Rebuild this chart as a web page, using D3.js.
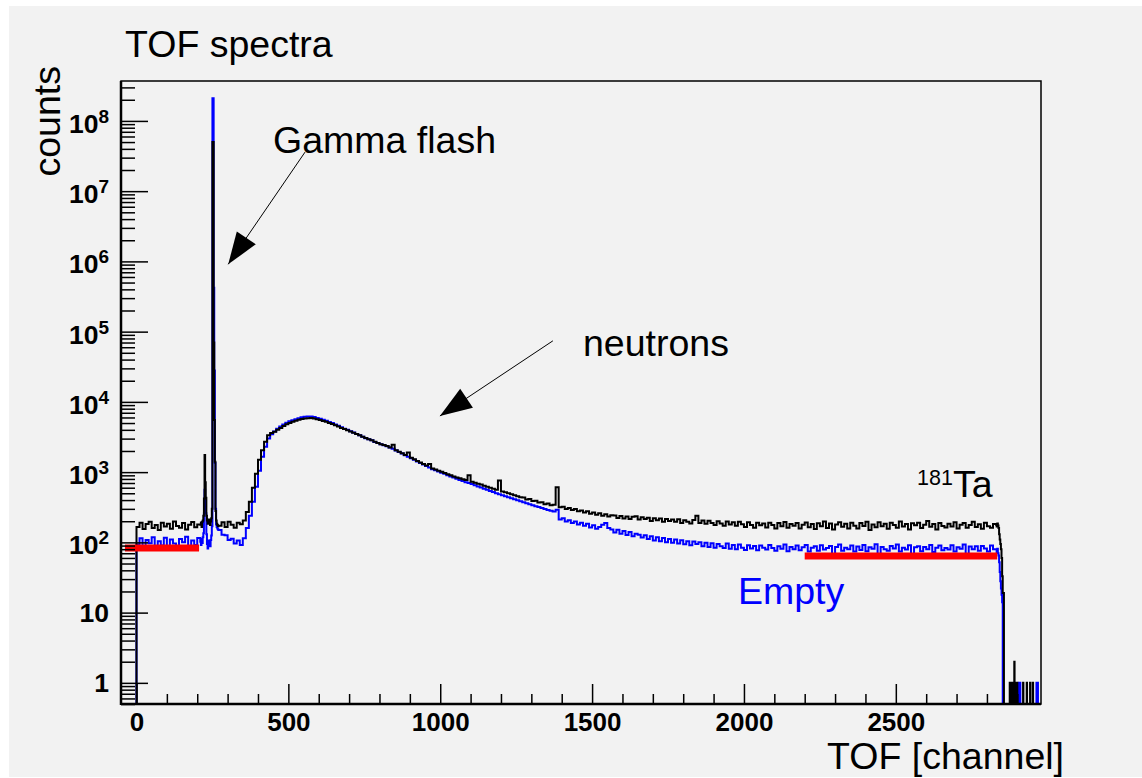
<!DOCTYPE html>
<html><head><meta charset="utf-8">
<script src="https://cdn.jsdelivr.net/npm/d3@7"></script>
<style>
html,body{margin:0;padding:0;background:#fff;}
svg{display:block;font-family:"Liberation Sans",Arial,Helvetica,sans-serif;}
</style></head><body>
<svg id="chart" width="1142" height="778"></svg>
<script>
// ---------------- DATA ----------------
// bins: channels 0-210 step 10
const taA = [166,190,155,182,197,160,176,150,191,168,184,156,199,171,161,188,153,178,195,164,180];
const emptyA = [93,114,84,108,97,118,80,104,90,116,86,110,96,79,112,100,120,85,106,92,115];
// channels 210-270 step 2 (gamma flash)
const taB = [178,192,165,196,205,240,420,1750,720,430,240,205,184,200,212,186,176,198,220,300,
             5.0e7,5.0e7,7.0e4,5500,1400,280,205,184,176,170];
const emptyB = [102,92,112,98,118,135,260,560,420,260,130,95,82,94,106,95,88,108,125,170,
                2.1e8,2.1e8,4.2e5,2.8e4,1350,300,180,165,158,152];
// channels 270-2830 step 10
const taC = [
 172,194,165,196,178,162,191,181,205,270,
 380,600,950,1500,2050,2700,3350,3600,3750,4000,
 4250,4550,4800,5000,5200,5380,5550,5700,5790,5850,
 5880,5800,5650,5520,5350,5200,5000,4850,4650,4450,
 4250,4100,3950,3800,3650,3500,3350,3200,3050,2950,
 2850,2700,2600,2500,2430,2350,2250,2450,2050,1950,
 1850,1750,1900,1600,1520,1440,1370,1300,1240,1300,
 1130,1090,1050,1010,975,930,905,870,840,815,
 790,770,900,730,705,685,665,640,620,600,
 580,560,760,530,515,500,485,470,455,440,
 434,408,414,388,391,370,373,350,359,338,
 344,610,316,322,298,308,288,298,278,285,
 266,277,256,266,248,259,239,251,234,244,
 242,223,238,218,234,215,231,236,212,227,
 215,225,202,221,206,218,197,215,202,212,
 196,214,189,207,197,186,209,240,188,204,
 184,203,188,176,200,186,172,198,180,193,
 172,196,181,165,193,177,162,190,175,186,
 163,191,176,158,188,170,195,161,182,172,
 189,157,178,192,164,183,155,187,170,199,
 160,186,152,179,194,167,184,158,190,172,
 158,188,171,197,150,180,164,193,169,184,
 156,190,176,162,198,168,182,152,187,175,
 191,160,178,201,167,182,153,189,171,163,
 184,168,193,158,178,188,161,176,197,165,
 181,156,190,170,162,183];
const emptyC = [
 150,128,126,108,113,96,106,92,114,160,
 240,380,620,1050,1650,2300,3000,3450,3800,4150,
 4450,4750,5050,5280,5480,5680,5870,6020,6120,6180,
 6170,6080,5920,5750,5560,5390,5190,5000,4780,4560,
 4350,4160,4000,3820,3660,3500,3340,3190,3040,2940,
 2840,2690,2590,2490,2410,2340,2240,2150,2040,1940,
 1840,1740,1660,1580,1500,1420,1350,1280,1220,1160,
 1100,1060,1020,980,945,905,870,840,805,775,
 745,720,700,675,650,625,605,580,560,540,
 520,500,485,470,455,440,425,410,398,385,
 372,360,350,338,328,318,308,298,290,282,
 276,292,212,221,198,207,188,199,180,190,
 172,184,163,175,156,166,178,188,160,152,
 138,151,133,145,127,140,122,133,128,117,
 126,112,122,106,118,104,115,100,112,99,
 110,96,107,94,104,91,103,95,100,88,
 99,86,97,84,95,88,83,96,81,92,
 80,93,84,78,91,82,89,77,90,84,
 79,92,83,76,88,81,93,75,86,80,
 90,77,85,92,74,84,88,76,91,79,
 83,89,68,86,93,76,84,80,90,74,
 87,78,92,75,85,81,94,66,86,80,
 76,89,82,93,74,84,79,91,64,85,
 88,75,86,80,92,73,84,90,77,83,
 79,91,74,85,81,93,62,87,80,88,
 76,89,82,74,90,80];
// channels 2830-2860 step 2 (cut-off)
const taD = [178,168,186,174,160,130,110,95,80,60,33,19,19,0,0];
const emptyD = [80,72,81,70,65,52,38,28,22,18,14,0,0,0,0];
// isolated single-channel counts after the cut-off
const taTailCh = [2875,2880,2884,2887,2890,2893,2896,2899,2919,2931,2942,2951];
const taTailVal = [1,1,1,1,2,1,1,1,1,1,1,1];
const emptyTailCh = [2905,2909,2963,2967];
const emptyTailVal = [1,1,1,1];
// background level markers (red)
const bgStart = [-38, 2200];
const bgEnd = [206, 2834];
const bgLevel = [83, 64];
// axis ticks
const xMajor = [0,500,1000,1500,2000,2500];
const xMinor = [100,200,300,400,600,700,800,900,1100,1200,1300,1400,1600,1700,1800,1900,2100,2200,2300,2400,2600,2700,2800,2900];
const yMajor = [1,10,1e2,1e3,1e4,1e5,1e6,1e7,1e8];

// ---------------- LAYOUT ----------------
const svg = d3.select('#chart');
const L = 121, R = 1041, T = 81, B = 704;
const FS = 37.5;
const x = d3.scaleLinear().domain([-51, 2978]).range([L, R]);
const y = d3.scaleLog().domain([0.5, 3.7e8]).range([B, T]);

svg.append('rect').attr('x',0).attr('y',0).attr('width',1142).attr('height',778).attr('fill','#ffffff');
svg.append('rect').attr('x',9).attr('y',6).attr('width',1133).attr('height',771).attr('fill','#f2f2f2');

svg.append('clipPath').attr('id','clip').append('rect')
  .attr('x',L).attr('y',T).attr('width',R-L).attr('height',B-T);

function buildBins(parts, tailCh, tailVal) {
  const bins = [];
  parts.forEach(([start, step, vals]) => vals.forEach((v,i) =>
    bins.push({c0:start+i*step, c1:start+(i+1)*step, v})));
  let cur = bins[bins.length-1].c1;
  tailCh.forEach((c,i) => {
    if (c > cur) bins.push({c0:cur, c1:c, v:0});
    bins.push({c0:c, c1:c+1, v:tailVal[i]});
    cur = c+1;
  });
  bins.push({c0:cur, c1:2978, v:0});
  const pts = [{c:bins[0].c0, v:0}];
  bins.forEach(b => pts.push({c:b.c0, v:b.v}));
  const last = bins[bins.length-1];
  pts.push({c:last.c1, v:last.v});
  return pts;
}
const line = d3.line().x(d => x(d.c)).y(d => y(Math.max(d.v, 0.5))).curve(d3.curveStepAfter);

const taPts = buildBins([[0,10,taA],[210,2,taB],[270,10,taC],[2830,2,taD]], taTailCh, taTailVal);
const emPts = buildBins([[0,10,emptyA],[210,2,emptyB],[270,10,emptyC],[2830,2,emptyD]], emptyTailCh, emptyTailVal);

const g = svg.append('g').attr('clip-path','url(#clip)');
g.append('path').attr('d', line(emPts)).attr('fill','none').attr('stroke','#0000ff').attr('stroke-width',2);
g.append('path').attr('d', line(taPts)).attr('fill','none').attr('stroke','#000').attr('stroke-width',2);

// red background markers
g.selectAll('line.bg').data(bgLevel).enter().append('line')
  .attr('x1',(d,i)=>x(bgStart[i])).attr('x2',(d,i)=>x(bgEnd[i]))
  .attr('y1',d=>y(d)).attr('y2',d=>y(d))
  .attr('stroke','#ff0000').attr('stroke-width',7);

// axes
const yMinor = [];
for (let k=-1;k<=8;k++) for (let m=2;m<=9;m++){ const v=m*Math.pow(10,k); if (v>=0.5 && v<=3.7e8) yMinor.push(v); }
const yMajAx = svg.append('g').attr('transform',`translate(${L},0)`)
  .call(d3.axisLeft(y).tickValues(yMajor).tickSize(-27).tickFormat(''));
const yMinAx = svg.append('g').attr('transform',`translate(${L},0)`)
  .call(d3.axisLeft(y).tickValues(yMinor).tickSize(-14).tickFormat(''));
const xMajAx = svg.append('g').attr('transform',`translate(0,${B})`)
  .call(d3.axisBottom(x).tickValues(xMajor).tickSizeInner(-20).tickSizeOuter(0).tickPadding(9).tickFormat(d3.format('d')));
const xMinAx = svg.append('g').attr('transform',`translate(0,${B})`)
  .call(d3.axisBottom(x).tickValues(xMinor).tickSize(-10).tickFormat(''));
[yMajAx,yMinAx,xMajAx,xMinAx].forEach(a => {
  a.select('.domain').remove();
  a.selectAll('.tick line').attr('stroke','#000').attr('stroke-width',1.5);
});
xMajAx.selectAll('.tick text').attr('font-size',26).attr('font-weight','bold').attr('fill','#000')
  .attr('font-family','"Liberation Sans",Arial,sans-serif');

// frame
svg.append('rect').attr('x',L).attr('y',T).attr('width',R-L).attr('height',B-T)
  .attr('fill','none').attr('stroke','#000').attr('stroke-width',1.5);
svg.append('line').attr('x1',L).attr('x2',L).attr('y1',T).attr('y2',B+1).attr('stroke','#000').attr('stroke-width',2.5);
svg.append('line').attr('x1',L).attr('x2',R).attr('y1',B).attr('y2',B).attr('stroke','#000').attr('stroke-width',2.5);

// y labels
yMajor.forEach(v => {
  const k = Math.round(Math.log10(v));
  const t = svg.append('text').attr('x',109).attr('text-anchor','end')
    .attr('font-size',26.5).attr('font-weight','bold').attr('fill','#000');
  if (k < 2) {
    t.attr('y', y(v)+9).text(String(v));
  } else {
    t.attr('y', y(v)+12);
    t.append('tspan').text('10');
    t.append('tspan').attr('font-size',19).attr('dy',-10).text(String(k));
  }
});

// titles
svg.append('text').attr('x',125).attr('y',57).attr('font-size',FS).text('TOF spectra');
svg.append('text').attr('transform','translate(60,66) rotate(-90)').attr('text-anchor','end')
  .attr('font-size',FS).text('counts');
svg.append('text').attr('x',1064).attr('y',769).attr('text-anchor','end').attr('font-size',FS).text('TOF [channel]');

// annotations
svg.append('text').attr('x',273).attr('y',153).attr('font-size',FS).text('Gamma flash');
svg.append('text').attr('x',583).attr('y',356).attr('font-size',FS).text('neutrons');
svg.append('text').attr('x',738).attr('y',604).attr('font-size',FS).attr('fill','#0000ff').text('Empty');
const ta = svg.append('text').attr('x',917).attr('y',497);
ta.append('tspan').attr('font-size',21.5).attr('dy',-12).text('181');
ta.append('tspan').attr('font-size',FS).attr('dy',12).text('Ta');

// arrows (data coordinates: channel, counts)
const arrows = [
  {from:[555, 3.6e7], to:[302, 9.1e5]},
  {from:[1371, 7.4e4], to:[999, 6300]}
];
arrows.forEach(a => {
  const x1 = x(a.from[0]), y1 = y(a.from[1]), x2 = x(a.to[0]), y2 = y(a.to[1]);
  svg.append('line').attr('x1',x1).attr('y1',y1).attr('x2',x2).attr('y2',y2)
    .attr('stroke','#000').attr('stroke-width',1);
  const dx = x1-x2, dy = y1-y2, len = Math.hypot(dx,dy), ux = dx/len, uy = dy/len;
  const hl = 32, hw = 11.5;
  const bx = x2+ux*hl, by = y2+uy*hl;
  svg.append('polygon').attr('points',
    `${x2},${y2} ${bx-uy*hw},${by+ux*hw} ${bx+uy*hw},${by-ux*hw}`).attr('fill','#000');
});
</script>
</body></html>
